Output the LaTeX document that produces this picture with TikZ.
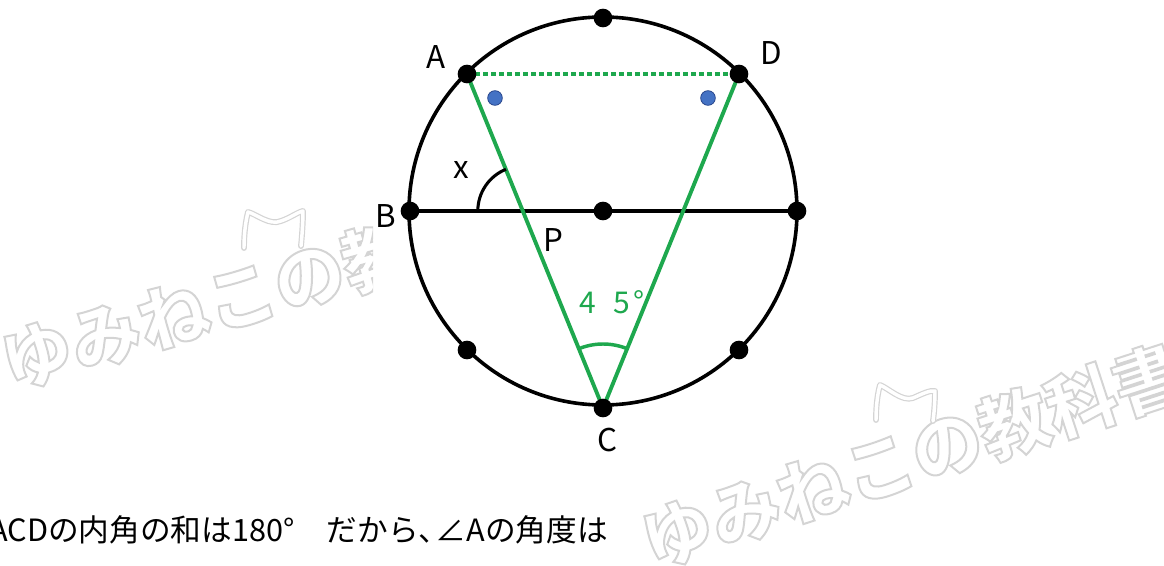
\documentclass[tikz,border=0pt]{standalone}
\usepackage{fontspec}
\setmainfont{Noto Sans CJK JP}
\newfontfamily\wmfont{Noto Sans CJK JP}
\definecolor{grn}{RGB}{30,168,78}
\definecolor{bluedot}{RGB}{68,114,196}
\definecolor{bluerim}{RGB}{40,70,140}
\definecolor{wmgray}{RGB}{212,212,212}
\newcommand\outlinetxt[1]{\special{pdf:literal direct 1 Tr 1.5 w}#1\special{pdf:literal direct 0 Tr}}
\tikzset{
  dot/.style={circle, fill=black, inner sep=0pt, minimum size=14pt},
  bdot/.style={circle, fill=bluedot, draw=bluerim, line width=0.6pt, inner sep=0pt, minimum size=11pt},
  lbl/.style={inner sep=0pt, font=\fontsize{23.5}{24}\selectfont},
  wmtext/.style={inner sep=0pt, text=wmgray, font=\wmfont\bfseries\fontsize{53}{53}\selectfont},
  ears/.style={draw=wmgray, line width=0.9pt, double=white, double distance=2.6pt, line cap=round, line join=round},
  blackline/.style={line width=2.7pt, black},
  grnline/.style={line width=2.9pt, grn},
}
\begin{document}
\begin{tikzpicture}[x=0.75pt,y=-0.75pt]
\useasboundingbox (0,0) rectangle (1164,566);
% watermarks
\begin{scope}
\clip (0,0) rectangle (373,566);
\node[wmtext, rotate=16] (wm1) at (275,286) {\outlinetxt{ゆみねこの教科書}};
\draw[ears] (244,248) .. controls (244,232) and (246,220) .. (248,212) .. controls (256,214) and (270,226) .. (281,221) .. controls (290,218) and (298,212) .. (303,211) .. controls (303,222) and (302,236) .. (301,246);
\end{scope}
\node[wmtext, rotate=18] (wm2) at (913,456) {\outlinetxt{ゆみねこの教科書}};
\draw[ears] (876,420) .. controls (876,404) and (878,392) .. (880,385) .. controls (888,388) and (902,402) .. (913,398) .. controls (922,394) and (930,390) .. (935,391) .. controls (935,402) and (934,414) .. (933,421);
% geometry
\coordinate (O) at (603,211);
\draw[blackline, fill=white] (O) circle[radius=194];
\coordinate (T) at (603,18);
\coordinate (A) at (467,74);
\coordinate (D) at (739,74);
\coordinate (B) at (410,211);
\coordinate (E) at (797,211);
\coordinate (L) at (467,350);
\coordinate (R) at (739,350);
\coordinate (C) at (603,408);
\draw[blackline] (B) -- (E);
\draw[grnline] (A) -- (C);
\draw[grnline] (D) -- (C);
\draw[grn, line width=3.4pt, dash pattern=on 3.4pt off 2.6pt] (A) -- (D);
\coordinate (X) at (intersection of A--C and B--E);
\draw[line width=2.3pt, black] (X) ++(180:33.75pt) arc[start angle=180, end angle=112, radius=33.75pt];
\draw[line width=2.6pt, grn] (C) ++(67.8:48pt) arc[start angle=67.8, end angle=112.2, radius=48pt];
% dots
\foreach \p in {T,A,D,B,O,E,L,R,C} \node[dot] (\p dot) at (\p) {};
\node[bdot] (b1) at (495,98) {};
\node[bdot] (b2) at (708,98) {};
% labels
\node[lbl] (lA) at (436,57) {A};
\node[lbl] (lD) at (771,53) {D};
\node[lbl] (lB) at (386,216) {B};
\node[lbl] (lC) at (607,440) {C};
\node[lbl] (lP) at (553,240) {P};
\node[lbl] (lx) at (461,170) {x};
\node[lbl, text=grn, font=\fontsize{22.5}{23}\selectfont] (l45) at (612,302) {4\hskip0.6em5\hskip0.1em°};
% bottom text
\node[lbl, anchor=base east, font=\fontsize{23}{24}\selectfont] (txt) at (608,541) {△ACDの内角の和は180°\hskip1.05em だから、\hskip-0.45em∠Aの角度は};
\end{tikzpicture}
\end{document}
